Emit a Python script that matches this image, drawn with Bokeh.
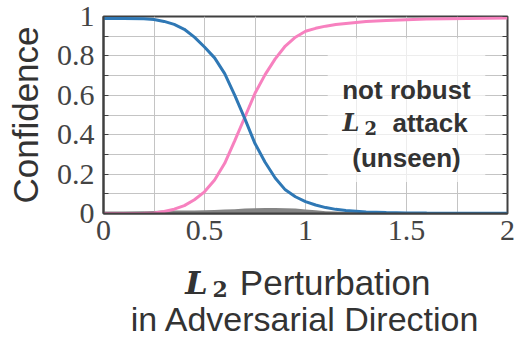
from bokeh.plotting import figure
from bokeh.layouts import column
from bokeh.models import FixedTicker, Label, Range1d, LinearAxis, BoxAnnotation
from bokeh.embed import file_html
from bokeh.resources import INLINE

# perturbation magnitude
x = [0, 0.1, 0.2, 0.25, 0.3, 0.35, 0.4, 0.45, 0.5, 0.55, 0.6, 0.65, 0.7, 0.75, 0.8, 0.85, 0.9,
     0.95, 1.0, 1.05, 1.1, 1.15, 1.2, 1.3, 1.4, 1.5, 1.6, 1.8, 2.0]
# confidence of the original (correct) class
blue = [0.99, 0.99, 0.988, 0.985, 0.975, 0.96, 0.935, 0.895, 0.845, 0.79, 0.71, 0.60, 0.48,
        0.355, 0.26, 0.18, 0.12, 0.085, 0.06, 0.043, 0.03, 0.021, 0.015, 0.008, 0.005, 0.003,
        0.002, 0.001, 0.001]
# confidence of the adversarial class
pink = [0.0, 0.0, 0.001, 0.003, 0.01, 0.022, 0.04, 0.07, 0.11, 0.17, 0.255, 0.37, 0.49,
        0.61, 0.705, 0.785, 0.85, 0.895, 0.925, 0.94, 0.951, 0.959, 0.965, 0.975, 0.98, 0.984,
        0.987, 0.99, 0.992]
# other classes
gray = [0.01, 0.01, 0.012, 0.013, 0.015, 0.015, 0.015, 0.015, 0.016, 0.018, 0.02, 0.022, 0.025,
        0.027, 0.028, 0.028, 0.027, 0.025, 0.02, 0.016, 0.012, 0.01, 0.008, 0.005, 0.003, 0.002,
        0.001, 0.0, 0.0]

x_ticks = [0, 0.5, 1, 1.5, 2]
x_tick_labels = ["0", "0.5", "1", "1.5", "2"]
x_grid = [0, 0.25, 0.5, 0.75, 1, 1.25, 1.5, 1.75, 2]
y_ticks = [0, 0.2, 0.4, 0.6, 0.8, 1]
y_tick_labels = ["0", "0.2", "0.4", "0.6", "0.8", "1"]
y_minor = [0.1, 0.3, 0.5, 0.7, 0.9]
y_grid = [0, 0.1, 0.2, 0.3, 0.4, 0.5, 0.6, 0.7, 0.8, 0.9, 1]

DARK = "#404040"
TXT = "#333333"
W = 516

p = figure(width=W, height=258, output_backend="svg", toolbar_location=None,
           x_range=Range1d(0, 2), y_range=Range1d(0, 1),
           min_border_left=103, min_border_top=16, min_border_bottom=45, min_border_right=9)
p.background_fill_color = "white"
p.border_fill_color = "white"
p.outline_line_color = DARK
p.outline_line_width = 2

p.xgrid.ticker = FixedTicker(ticks=x_grid)
p.ygrid.ticker = FixedTicker(ticks=y_grid)
for g in (p.xgrid, p.ygrid):
    g.grid_line_color = "#c4c4c4"
    g.grid_line_width = 1

xa = p.xaxis[0]
xa.ticker = FixedTicker(ticks=x_ticks)
xa.major_label_overrides = {t: l for t, l in zip(x_ticks, x_tick_labels)}
ya = p.yaxis[0]
ya.ticker = FixedTicker(ticks=y_ticks, minor_ticks=y_minor)
ya.major_label_overrides = {t: l for t, l in zip(y_ticks, y_tick_labels)}
for ax in (xa, ya):
    ax.axis_line_color = DARK
    ax.axis_line_width = 2
    ax.major_label_text_font = "Liberation Serif"
    ax.major_label_text_font_size = "30px"
    ax.major_label_text_color = "#444444"
    ax.major_tick_out = 0
    ax.minor_tick_out = 0
    ax.major_label_standoff = 9
xa.major_label_standoff = 7
xa.major_tick_in = 0
xa.minor_tick_in = 0
xa.minor_tick_line_color = None
ya.major_tick_in = 5
ya.minor_tick_in = 5
ya.major_tick_line_color = DARK
ya.minor_tick_line_color = DARK
ya.axis_label = "Confidence"
ya.axis_label_text_font = "Liberation Sans"
ya.axis_label_text_font_size = "35px"
ya.axis_label_text_font_style = "normal"
ya.axis_label_text_color = TXT
ya.axis_label_standoff = 9

ra = LinearAxis(ticker=FixedTicker(ticks=y_ticks, minor_ticks=y_minor),
                major_label_overrides={t: "" for t in y_ticks},
                axis_line_color=None,
                major_tick_in=5, major_tick_out=0, minor_tick_in=5, minor_tick_out=0,
                major_tick_line_color=DARK, minor_tick_line_color=DARK,
                major_label_standoff=0)
p.add_layout(ra, "right")

p.varea(x=x, y1=0, y2=gray, color="#858585")
p.line(x, pink, color="#f781bf", line_width=3)
p.line(x, blue, color="#2f78b5", line_width=3)

# translucent white box behind the annotation
p.add_layout(BoxAnnotation(left=1.11, right=1.89, bottom=0.16, top=0.89,
                           fill_color="white", fill_alpha=0.7, line_color=None))

def lab(fig, text, x, y, units="screen", font="Liberation Sans", size="26px", style="bold",
        align="left", baseline="alphabetic", color=TXT):
    fig.add_layout(Label(x=x, y=y, x_units=units, y_units=units, text=text,
                         text_font=font, text_font_size=size, text_font_style=style,
                         text_align=align, text_baseline=baseline, text_color=color))

# in-plot annotation (frame-relative pixels)
lab(p, "not robust", 303, 124, align="center")
lab(p, "L", 239, 91, font="DejaVu Serif", size="24px", style="bold italic")
lab(p, "2", 261, 86, font="DejaVu Serif", size="18px", style="bold")
lab(p, "attack", 289, 91)
lab(p, "(unseen)", 303, 56, align="center")

# x axis label (two lines) in a strip below the chart; its frame lines up with the chart's
q = figure(width=W, height=80, output_backend="svg", toolbar_location=None,
           x_range=Range1d(0, 2), y_range=Range1d(0, 80),
           x_axis_location=None, y_axis_location=None,
           min_border_left=0, min_border_right=0, min_border_top=0, min_border_bottom=0)
q.outline_line_color = None
q.grid.visible = False
q.background_fill_color = "white"
q.border_fill_color = "white"
lab(q, "L", 0.405, 56, units="data", font="DejaVu Serif", size="32px", style="bold italic")
lab(q, "2", 0.54, 50, units="data", font="DejaVu Serif", size="22px", style="bold")
lab(q, "Perturbation", 0.675, 56, units="data", size="35px", style="normal")
lab(q, "in Adversarial Direction", 1.0, 20, units="data", size="34px", style="normal",
    align="center")

layout = column(p, q, spacing=0)
open("out.html", "w").write(file_html(layout, INLINE))
